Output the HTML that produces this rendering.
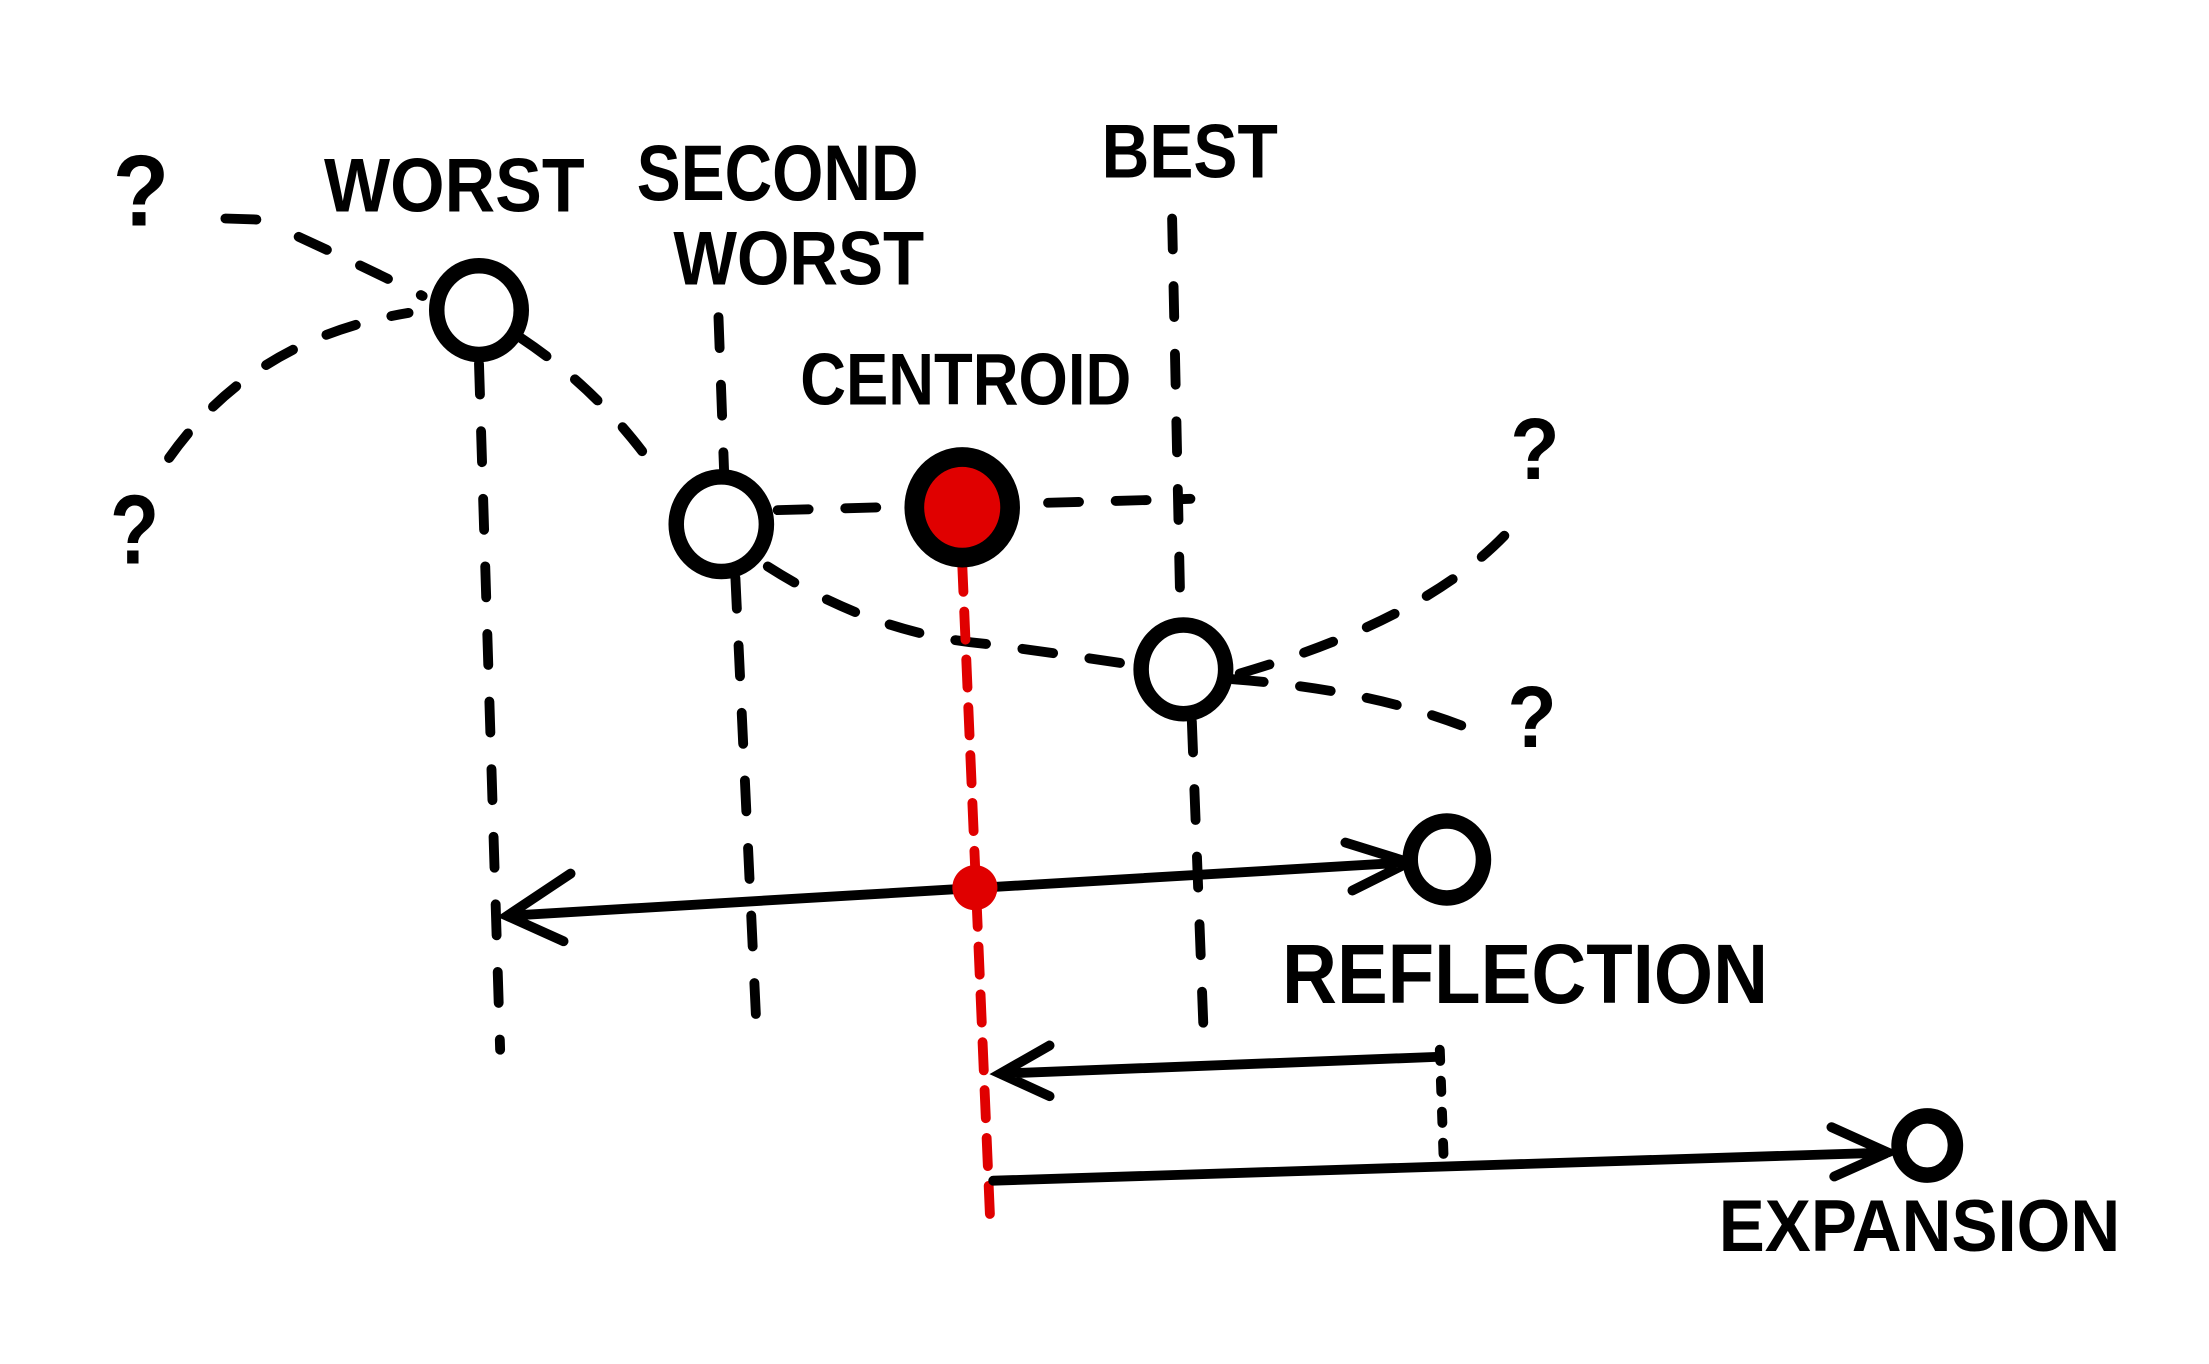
<!DOCTYPE html>
<html>
<head>
<meta charset="utf-8">
<style>
html,body{margin:0;padding:0;background:#fff;}
svg{display:block;}
text{font-family:"Liberation Sans",sans-serif;font-weight:bold;fill:#000;}
</style>
</head>
<body>
<svg id="chart" width="2209" height="1364" viewBox="0 0 1568 968" xmlns="http://www.w3.org/2000/svg">
<g id="lines" fill="none" stroke="#000" stroke-width="7" stroke-linecap="round"></g>
<g id="marks"></g>
<g id="labels"></g>
</svg>
<script>
const pointNames = ['worst','second-worst','centroid','best','reflection','expansion'];
const pointX = [340, 512, 683, 840, 1027, 1368];
const pointY = [220, 372, 360, 475, 610, 813];
const pointR = [30, 32, 34, 30, 26, 20];
const labelTexts = ['?','WORST','SECOND','WORST','BEST','CENTROID','?','?','?','REFLECTION','EXPANSION'];
const labelX = [80,230,452,478,782,568,78,1072,1070,910,1220];
const labelY = [160,150,142,202,126,287,400,340,530,712,888];
const labelW = [40,185,200,178,125,235,35,35,35,345,285];
const labelS = [72,54,56,54,54,52,70,62,62,60,52];

const NS='http://www.w3.org/2000/svg';
const L=document.getElementById('lines'),M=document.getElementById('marks'),T=document.getElementById('labels');
function path(d,name,dash,color){
  const p=document.createElementNS(NS,'path');
  p.setAttribute('d',d);
  if(dash)p.setAttribute('stroke-dasharray',dash);
  if(color)p.setAttribute('stroke',color);
  
  
  L.appendChild(p);
}
const D='22 26';
path('M160 155 L190 156 M212 168 Q260 190 300 210','curve-left-upper',D);
path('M120 325 Q180 240 290 222','curve-left-lower',D);
path('M370 240 Q430 280 470 340','curve-worst-second',D);
path('M545 402 Q620 450 700 457 Q760 465 805 472','curve-second-best',D);
path('M875 482 Q980 490 1050 520','curve-best-right-lower',D);
path('M880 478 Q1010 440 1068 380','curve-best-right-upper',D);
path('M552 362 L845 354','centroid-horizontal',D);
path('M340 258 L355 745','worst-vertical',D);
path('M510 225 L514 335 M522 410 L537 730','second-worst-vertical',D);
path('M832 155 L838 440 M846 512 L855 750','best-vertical',D);
path('M1022 745 L1025 830','reflection-vertical','8 14');
path('M683 400 L703 870','centroid-vertical','20 14','#e00000');
path('M360 650 L1000 612 M405 620 L360 650 L400 668 M955 598 L1000 612 L960 632','reflection-arrow');
path('M1022 750 L710 762 M745 742 L710 762 L745 778','contraction-arrow');
path('M705 838 L1340 818 M1300 800 L1340 818 L1302 835','expansion-arrow');
for(let i=0;i<pointX.length;i++){
  const c=document.createElementNS(NS,'ellipse');
  c.setAttribute('cx',pointX[i]);c.setAttribute('cy',pointY[i]);
  c.setAttribute('rx',pointR[i]);c.setAttribute('ry',pointR[i]*1.05);
  c.setAttribute('fill',pointNames[i]==='centroid'?'#e00000':'#fff');
  c.setAttribute('stroke','#000');c.setAttribute('stroke-width',pointNames[i]==='centroid'?14:11);
  
  
  M.appendChild(c);
}
const rd=document.createElementNS(NS,'circle');
rd.setAttribute('cx',692);rd.setAttribute('cy',630);rd.setAttribute('r',16);rd.setAttribute('fill','#e00000');


M.appendChild(rd);
for(let i=0;i<labelTexts.length;i++){
  const t=document.createElementNS(NS,'text');
  t.setAttribute('x',labelX[i]);t.setAttribute('y',labelY[i]);
  t.setAttribute('font-size',labelS[i]);
  t.setAttribute('textLength',labelW[i]);t.setAttribute('lengthAdjust','spacingAndGlyphs');
  t.textContent=labelTexts[i];
  
  
  T.appendChild(t);
}
</script>
</body>
</html>
